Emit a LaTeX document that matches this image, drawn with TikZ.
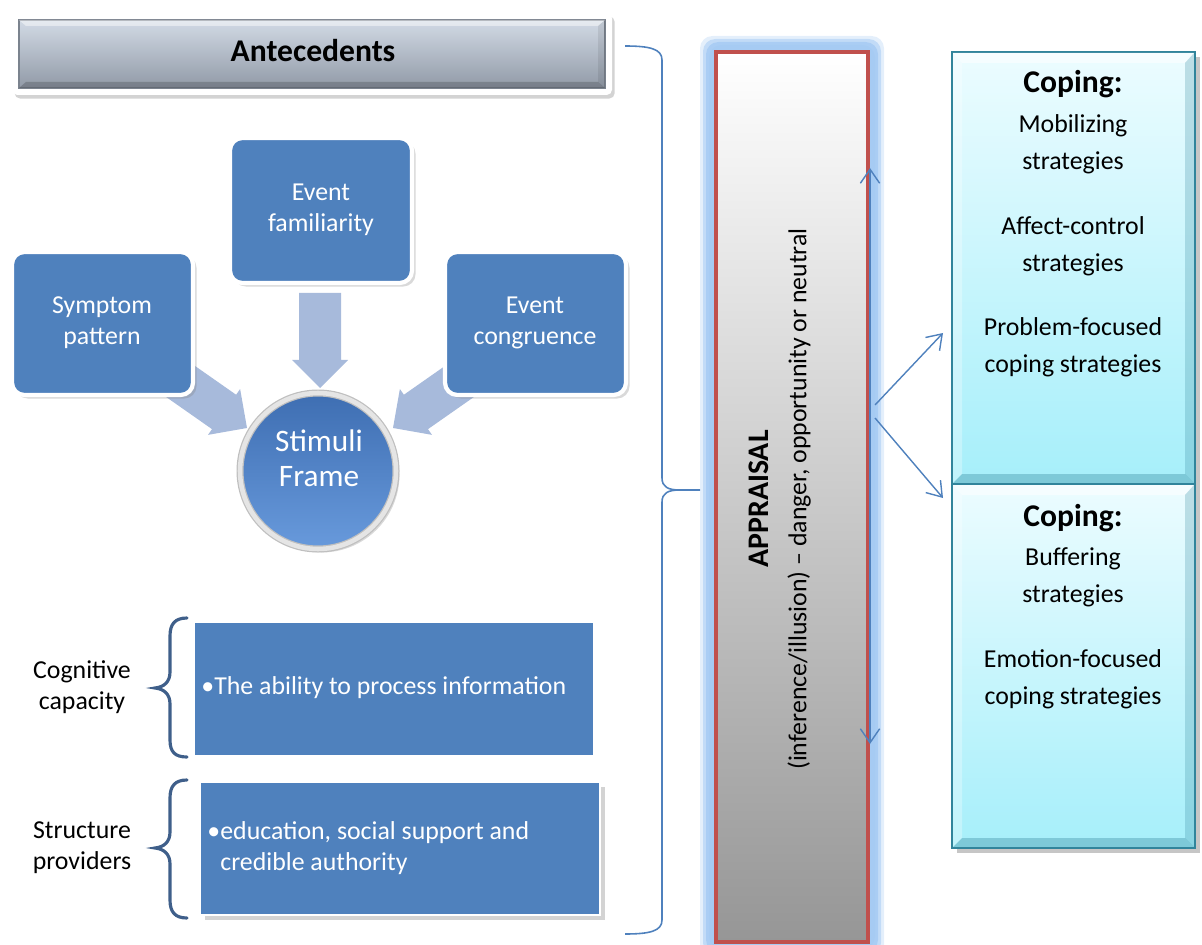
\documentclass[tikz,border=0pt]{standalone}
\usepackage{fontspec}
\setmainfont{Carlito}
\usetikzlibrary{shadows,fit,arrows.meta}

\definecolor{accentblue}{RGB}{79,129,189}
\definecolor{bracedark}{RGB}{63,95,138}
\definecolor{fatarrowcol}{RGB}{167,186,219}
\definecolor{apprred}{RGB}{192,80,77}
\definecolor{glowblue}{RGB}{166,203,243}
\definecolor{copeedge}{RGB}{49,132,155}
\definecolor{copetop}{RGB}{236,252,255}
\definecolor{copebot}{RGB}{166,239,250}
\definecolor{anttop}{RGB}{210,218,229}
\definecolor{antbot}{RGB}{145,154,167}
\definecolor{stimtop}{RGB}{62,110,178}
\definecolor{stimbot}{RGB}{104,154,220}
\definecolor{apprbot}{RGB}{150,150,150}

\begin{document}
\begin{tikzpicture}[x=0.02cm,y=-0.02cm,
  bodytext/.style={font=\fontsize{14.7}{17.5}\selectfont, align=center, inner sep=0pt},
  whitetext/.style={bodytext, text=white},
  headtext/.style={font=\fontsize{18}{21}\selectfont\bfseries, inner sep=0pt},
  copetext/.style={font=\fontsize{14.7}{21}\selectfont, align=center, inner sep=0pt},
  eventbox/.style={fill=accentblue, draw=white, line width=2.4pt, rounded corners=7pt,
    inner sep=0pt, drop shadow={opacity=0.3, shadow xshift=2pt, shadow yshift=-2pt}},
  flatbox/.style={fill=accentblue, inner sep=0pt},
  copebox/.style={inner sep=0pt, top color=copetop, bottom color=copebot, draw=copeedge,
    line width=1.3pt, drop shadow={opacity=0.45, shadow xshift=3pt, shadow yshift=-3pt}},
  bevellight/.style={fill=white, opacity=0.55},
  beveldark/.style={fill=copeedge, opacity=0.25},
  thinarrow/.style={draw=accentblue, line width=0.8pt, -{Straight Barb[length=8pt,width=11pt]}},
  thinbrace/.style={draw=accentblue, line width=0.9pt},
  thickbrace/.style={draw=bracedark, line width=1.8pt, line cap=round},
  fatarrow/.pic={\fill[fatarrowcol] (0,0) -- (-28,-28) -- (-28,-21) -- (-95,-21)
     -- (-95,21) -- (-28,21) -- (-28,28) -- cycle;}
]
\useasboundingbox (0,0) rectangle (1202,945);

% ---------- Antecedents header ----------
\node[fit={(12,13)(612,95)}, inner sep=0pt, fill=white, rounded corners=3pt,
  drop shadow={opacity=0.35, shadow xshift=1.5pt, shadow yshift=-2pt}] (antframe) {};
\node[fit={(19,20)(605,88)}, inner sep=0pt, top color=anttop, bottom color=antbot,
  draw=antbot!85!black, line width=0.6pt] (ant) {};
\fill[white, opacity=0.45] (19,20) -- (605,20) -- (598,26) -- (26,26) -- cycle;
\fill[black, opacity=0.18] (19,88) -- (605,88) -- (598,82) -- (26,82) -- cycle;
\fill[black, opacity=0.08] (605,20) -- (605,88) -- (598,82) -- (598,26) -- cycle;
\node[headtext] (anttxt) at (313,51) {Antecedents};

% ---------- block arrows into the stimuli frame ----------
\pic[rotate=-90] at (320,388) {fatarrow};
\pic[rotate=-35] at (247,428) {fatarrow};
\pic[rotate=-145] at (393,428) {fatarrow};

% ---------- event boxes ----------
\node[eventbox, fit={(230,138)(412,283)}] (fam) {};
\node[whitetext] at (321,210) {Event\\familiarity};
\node[eventbox, fit={(12,252)(193,395)}] (sym) {};
\node[whitetext] at (102,323) {Symptom\\pattern};
\node[eventbox, fit={(445,252)(626,395)}] (cong) {};
\node[whitetext] at (535,323) {Event\\congruence};

% ---------- stimuli frame ----------
\node[circle, inner sep=0pt, minimum size=3.12cm, top color=stimtop, bottom color=stimbot,
  draw=black!25, line width=0.7pt, double=white!90!black, double distance=2.6pt,
  drop shadow={opacity=0.3, shadow xshift=2pt, shadow yshift=-2pt}] (stim) at (318,471) {};
\node[font=\fontsize{17.8}{20}\selectfont, text=white, align=center, inner sep=0pt]
  (stimtxt) at (319,458) {Stimuli\\Frame};

% ---------- cognitive capacity / structure providers ----------
\node[flatbox, fit={(195,623)(593,755)}] (cogbox) {};
\node[whitetext, anchor=west, align=left] at (214,688)
  {\makebox[0pt][r]{•}The ability to process information};
\node[flatbox, draw=white, line width=1.5pt, fit={(200,782)(600,915)},
  drop shadow={opacity=0.35, shadow xshift=3pt, shadow yshift=-3pt}] (strbox) {};
\node[whitetext, anchor=west, align=left] at (220,848)
  {\makebox[0pt][r]{•}education, social support and\\credible authority};

\node[bodytext] (coglbl) at (82,687) {Cognitive\\capacity};
\node[bodytext] (strlbl) at (82,848) {Structure\\providers};

\draw[thickbrace] (187,618) .. controls (175,618) and (170,624) .. (170,636)
  -- (170,672) .. controls (170,682) and (164,687) .. (155,688)
  .. controls (164,689) and (170,694) .. (170,704)
  -- (170,740) .. controls (170,752) and (175,757) .. (187,757);
\draw[thickbrace] (187,780) .. controls (175,780) and (170,786) .. (170,798)
  -- (170,832) .. controls (170,842) and (164,847) .. (155,848)
  .. controls (164,849) and (170,854) .. (170,864)
  -- (170,900) .. controls (170,912) and (175,918) .. (187,918);

% ---------- brace gathering the antecedents ----------
\draw[thinbrace] (625,46) .. controls (650,46) and (662,49) .. (662,60)
  -- (662,478) .. controls (662,487) and (668,490) .. (680,490) -- (700,490);
\draw[thinbrace] (680,490) .. controls (668,490) and (662,493) .. (662,502)
  -- (662,920) .. controls (662,931) and (650,934) .. (625,934);

% ---------- appraisal column ----------
\foreach \g/\o in {16/0.3,13/0.55,10/0.85,7/1} {
  \fill[glowblue, opacity=\o, rounded corners=7pt] (716-\g,52-\g) rectangle (868+\g,942+\g);
}
\node[fit={(716,52)(868,942)}, inner sep=0pt, draw=apprred, line width=2.3pt,
  top color=white, bottom color=apprbot] (appr) {};
\node[rotate=90, align=center, inner sep=0pt, font=\fontsize{14.7}{21.5}\selectfont]
  (apprtxt) at (780,499)
  {{\fontsize{17}{21.5}\selectfont\bfseries APPRAISAL}\\(inference/illusion) – danger, opportunity or neutral};

\coordinate (uptip) at (870,168);
\coordinate (downtip) at (870,744);
\draw[thinarrow, {Straight Barb[length=8pt,width=11pt]}-{Straight Barb[length=8pt,width=11pt]}]
  (uptip) -- (downtip);

% ---------- coping boxes ----------
\node[copebox, fit={(952,52)(1195,484)}] (cope1) {};
\node[copebox, fit={(952,484)(1195,848)}] (cope2) {};
% bevelled edges of the two coping boxes
\foreach \t/\b in {52/484, 484/848} {
  \fill[bevellight] (953,\t+1) -- (1194,\t+1) -- (1185,\t+11) -- (962,\t+11) -- cycle;
  \fill[bevellight, opacity=0.3] (953,\t+1) -- (962,\t+11) -- (962,\b-10) -- (953,\b-1) -- cycle;
  \fill[beveldark] (1194,\t+1) -- (1194,\b-1) -- (1185,\b-10) -- (1185,\t+11) -- cycle;
  \fill[beveldark, opacity=0.35] (953,\b-1) -- (1194,\b-1) -- (1185,\b-10) -- (962,\b-10) -- cycle;
}

\coordinate (fork1) at (875,405);
\coordinate (fork2) at (875,418);
\coordinate (tip1) at (943,333);
\coordinate (tip2) at (943,498);
\draw[thinarrow] (fork1) -- (tip1);
\draw[thinarrow] (fork2) -- (tip2);

\node[headtext] (c1h) at (1073,84) {Coping:};
\node[copetext] (c1a) at (1073,144) {Mobilizing\\strategies};
\node[copetext] (c1b) at (1073,246) {Affect-control\\strategies};
\node[copetext] (c1c) at (1073,347) {Problem-focused\\coping strategies};

\node[headtext] (c2h) at (1073,518) {Coping:};
\node[copetext] (c2a) at (1073,577) {Buffering\\strategies};
\node[copetext] (c2b) at (1073,679) {Emotion-focused\\coping strategies};
\end{tikzpicture}
\end{document}
